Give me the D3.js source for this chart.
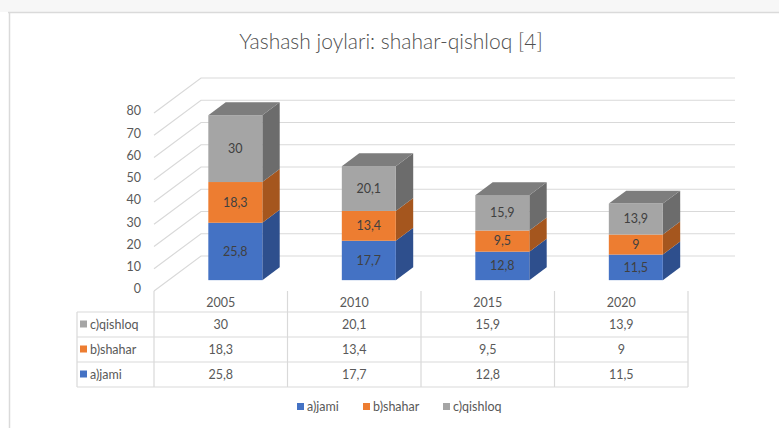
<!DOCTYPE html>
<html><head><meta charset="utf-8">
<script src="https://cdn.jsdelivr.net/npm/d3@7"></script>
<style>
html,body{margin:0;padding:0;background:#fff;}
svg{display:block;font-family:Lato,"Open Sans",sans-serif;}
</style></head>
<body><svg id="c" width="779" height="428"></svg>
<script>
const title = "Yashash joylari: shahar-qishloq [4]";
const years = ["2005","2010","2015","2020"];
const seriesNames = ["a)jami","b)shahar","c)qishloq"];
const jami = [25.8,17.7,12.8,11.5];
const shahar = [18.3,13.4,9.5,9];
const qishloq = [30,20.1,15.9,13.9];
const yTicks = [0,10,20,30,40,50,60,70,80];

const colors = {front:["#4472C4","#ED7D31","#A5A5A5"], side:["#2E4F8D","#A5561E","#6C6C6C"], top:["#35599E","#B8611F","#7D7D7D"]};
const fmt = v => String(v).replace(".", ",");

const svg = d3.select("#c");
// frame
svg.append("rect").attr("x",0).attr("y",0).attr("width",779).attr("height",12).attr("fill","#f7f7f7");
svg.append("line").attr("x1",8).attr("x2",779).attr("y1",12.5).attr("y2",12.5).attr("stroke","#dadada").attr("stroke-width",1.5);
svg.append("line").attr("x1",9.5).attr("x2",9.5).attr("y1",12).attr("y2",428).attr("stroke","#dadada").attr("stroke-width",1.5);

svg.append("text").attr("x",391).attr("y",49).attr("text-anchor","middle")
  .attr("font-size",21).attr("font-weight",300).attr("fill","#505050").text(title);

// geometry
const floorY = 291, DX = 47, DY = -35;
const x = d3.scaleBand().domain(years).range([154, 688]).padding(0);
const y = d3.scaleLinear().domain([0,80]).range([floorY, floorY-178]);
const P = (px, v, d) => [px + DX*d, y(v) + DY*d];

const grid = svg.append("g").attr("fill","none").attr("stroke","#d9d9d9").attr("stroke-width",1.2);
yTicks.forEach(v=>{
  const a = P(154, v, 0), b = P(154, v, 1), c = P(688, v, 1);
  grid.append("polyline").attr("points",[a,b,c].map(p=>p.join(",")).join(" "));
});
// y labels
svg.append("g").selectAll("text").data(yTicks).join("text")
  .attr("x",141).attr("y",v=>y(v)-2).attr("dy","0.35em").attr("text-anchor","end")
  .attr("font-size",12.5).attr("fill","#595959").text(v=>v);

// bars
const d0 = 0.31, d1 = 0.68;
const bw = 54;
const series = [jami, shahar, qishloq];
const bars = svg.append("g");
years.forEach((yr,i)=>{
  const xl = x(yr) + x.bandwidth()/2 - bw/2;
  const xr = xl + bw;
  let base = 0;
  series.forEach((s,k)=>{
    const v0 = base, v1 = base + s[i];
    const fl = P(xl,v1,d0), fr = P(xr,v0,d0);
    const side = [P(xr,v0,d0),P(xr,v0,d1),P(xr,v1,d1),P(xr,v1,d0)];
    bars.append("polygon").attr("points",side.map(p=>p.join(",")).join(" ")).attr("fill",colors.side[k]);
    bars.append("rect").attr("x",fl[0]).attr("y",fl[1]).attr("width",fr[0]-fl[0]).attr("height",fr[1]-fl[1]).attr("fill",colors.front[k]);
    if(k===series.length-1){
      const top = [P(xl,v1,d0),P(xl,v1,d1),P(xr,v1,d1),P(xr,v1,d0)];
      bars.append("polygon").attr("points",top.map(p=>p.join(",")).join(" ")).attr("fill",colors.top[k]);
    }
    const c = P((xl+xr)/2,(v0+v1)/2,d0);
    bars.append("text").attr("x",c[0]).attr("y",c[1]).attr("dy","0.35em").attr("text-anchor","middle")
      .attr("font-size",12.5).attr("fill","#404040").text(fmt(s[i]));
    base = v1;
  });
});

// data table
const tbl = svg.append("g");
const rowTop = 312, rowH = 25, leftX = 77;
const tcol = "#d9d9d9";
[...years.map(yr=>x(yr)), 688].forEach(xx=>{
  tbl.append("line").attr("x1",xx).attr("x2",xx).attr("y1",floorY).attr("y2",rowTop+3*rowH).attr("stroke",tcol).attr("stroke-width",1.2);
});
tbl.append("line").attr("x1",leftX).attr("x2",leftX).attr("y1",rowTop).attr("y2",rowTop+3*rowH).attr("stroke",tcol).attr("stroke-width",1.2);
for(let r=0;r<=3;r++){
  tbl.append("line").attr("x1",leftX).attr("x2",688).attr("y1",rowTop+r*rowH).attr("y2",rowTop+r*rowH).attr("stroke",tcol).attr("stroke-width",1.2);
}
years.forEach(yr=>{
  tbl.append("text").attr("x",x(yr)+x.bandwidth()/2).attr("y",(floorY+rowTop)/2+1).attr("dy","0.35em")
    .attr("text-anchor","middle").attr("font-size",12.5).attr("fill","#595959").text(yr);
});
const rowOrder = [2,1,0];
rowOrder.forEach((k,r)=>{
  const cy = rowTop + r*rowH + rowH/2;
  tbl.append("rect").attr("x",80).attr("y",cy-4).attr("width",7).attr("height",7).attr("fill",colors.front[k]);
  tbl.append("text").attr("x",90).attr("y",cy).attr("dy","0.35em").attr("font-size",12.5).attr("fill","#595959").text(seriesNames[k]);
  years.forEach((yr,i)=>{
    tbl.append("text").attr("x",x(yr)+x.bandwidth()/2).attr("y",cy).attr("dy","0.35em")
      .attr("text-anchor","middle").attr("font-size",12.5).attr("fill","#595959").text(fmt(series[k][i]));
  });
});

// legend
const leg = svg.append("g");
const legX = [297, 363, 443];
seriesNames.forEach((n,k)=>{
  leg.append("rect").attr("x",legX[k]).attr("y",403).attr("width",7).attr("height",7).attr("fill",colors.front[k]);
  leg.append("text").attr("x",legX[k]+10).attr("y",407).attr("dy","0.35em").attr("font-size",12.5).attr("fill","#595959").text(n);
});
</script></body></html>
